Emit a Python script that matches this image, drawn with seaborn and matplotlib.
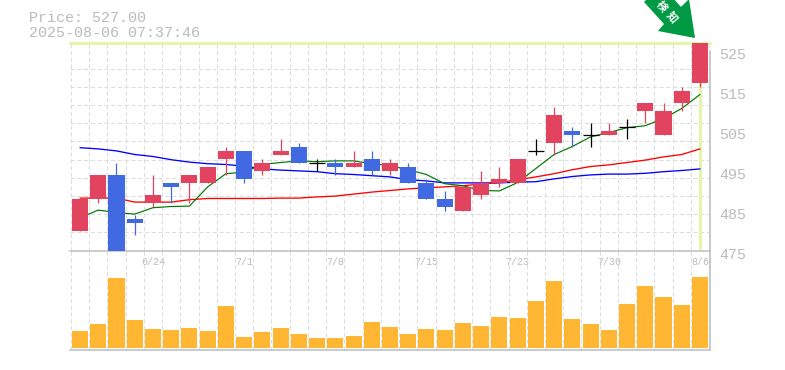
import numpy as np
import pandas as pd
import seaborn as sns
import matplotlib
matplotlib.use('Agg')
import matplotlib.pyplot as plt
from matplotlib.patches import Polygon
from matplotlib.transforms import ScaledTranslation

sns.set_theme(style='white')
plt.rcParams['font.family'] = ['Liberation Mono', 'DejaVu Sans']

opens = [480, 488, 494, 483, 487, 492, 492, 492, 498, 500, 495, 499, 501, 497, 497, 496, 498, 495, 496, 492,
         488, 485, 489, 492, 492, 500, 502, 505, 504, 504, 506, 510, 504, 512, 517]
highs = [488, 494, 497, 484, 494, 492, 494, 496, 501, 500, 498, 503, 502, 498, 498, 500, 500, 498, 497, 493,
         490, 491, 495, 496, 498, 503, 511, 506, 507, 507, 508, 512, 512, 516, 527]
lows = [480, 487, 475, 479, 486, 487, 487, 492, 494, 492, 494, 499, 497, 495, 494, 496, 494, 494, 492, 488,
        485, 485, 488, 491, 492, 499, 499, 501, 501, 504, 503, 507, 504, 510, 516]
closes = [488, 494, 475, 482, 489, 491, 494, 496, 500, 493, 497, 500, 497, 497, 496, 497, 495, 497, 492, 488,
          486, 491, 492, 493, 498, 500, 509, 504, 504, 505, 506, 512, 510, 515, 527]
volumes = [17, 24, 70, 28, 19, 18, 20, 17, 42, 11, 16, 20, 14, 10, 10, 12, 26, 21, 14, 19,
           18, 25, 22, 31, 30, 47, 67, 29, 24, 18, 44, 62, 51, 43, 71]
ma_short = [483.2, 485.1, 484.5, 484.1, 485.7, 486, 486.1, 490.9, 494.2, 494.6, 496.5, 497, 497.4, 497.2, 497.4,
            497.4, 496.7, 496.2, 495.2, 494, 491.7, 491.2, 490, 489.9, 492, 495.5, 499, 501, 503.4, 504.5,
            505.7, 506.2, 508, 510.5, 514]
ma_mid = [488.1, 488.1, 488.1, 487.1, 487.1, 487.1, 487.7, 488, 488, 488, 488, 488.1, 488.1, 488.4, 488.6,
          489.1, 489.6, 490, 490.4, 490.7, 490.9, 491.2, 491.6, 492, 492.7, 493.4, 494.2, 495.2, 496, 496.4,
          497, 497.6, 498.4, 499, 500.4]
ma_long = [500.7, 500.4, 499.9, 499, 498.5, 497.7, 497.1, 496.7, 496.5, 496.1, 495.4, 495.1, 494.9, 494.7, 494.2,
           494, 493.7, 493.4, 492.7, 492.4, 491.9, 491.9, 491.9, 491.9, 492.1, 492.2, 492.9, 493.5, 493.9, 494.1,
           494.1, 494.3, 494.7, 495, 495.4]
date_pos = [4, 9, 14, 19, 24, 29, 34]
date_labels = ['6/24', '7/1', '7/8', '7/15', '7/23', '7/30', '8/6']
price_ticks = [475, 485, 495, 505, 515, 525]
price_now = '527.00'
stamp = '2025-08-06 07:37:46'
badge = ['検', '知']

UP = '#E2435F'
DOWN = '#4169E1'
GRID = '#DDDDDD'
TXT = '#BBBBBB'
EDGE = '#BDBDBD'
HILITE = '#E4F5A8'

df = pd.DataFrame({'i': range(len(opens)), 'open': opens, 'high': highs, 'low': lows, 'close': closes,
                   'vol': volumes, 'short': ma_short, 'mid': ma_mid, 'long': ma_long})

W, H = 785, 370
fig = plt.figure(figsize=(W / 100, H / 100), dpi=100)
# pixel box -> figure fraction
def box(x0, y0, x1, y1):
    return [x0 / W, 1 - y1 / H, (x1 - x0) / W, (y1 - y0) / H]

ax = fig.add_axes(box(70, 42, 710, 250.5))
vax = fig.add_axes(box(70, 250.5, 710, 350))
xlim = (-0.55, 34.55)

# grid first
grid_y = np.linspace(475, 525, 12)[1:]
for a in (ax, vax):
    a.set_xlim(*xlim)
    a.set_xticks(np.arange(-0.5, 35, 1), minor=True)
    a.grid(which='minor', axis='x', color=GRID, lw=0.75, ls=(0, (4, 2.5)))
    a.set_axisbelow(True)
    for s in a.spines.values():
        s.set_visible(False)
    a.tick_params(which='both', length=0)
    a.patch.set_alpha(0)

ax.set_ylim(475, 527.125)
ax.set_yticks(grid_y, minor=True)
ax.grid(which='minor', axis='y', color=GRID, lw=0.75, ls=(0, (4, 2.5)))
ax.set_xticks([])
ax.set_xticks(np.arange(-0.5, 35, 1), minor=True)
ax.yaxis.tick_right()
ax.set_yticks(price_ticks)
ax.set_yticklabels(price_ticks, color=TXT, fontsize=10.8)
ax.tick_params(axis='y', which='major', pad=6.5)
shift = ScaledTranslation(0, -0.025, fig.dpi_scale_trans)
for lab in ax.get_yticklabels():
    lab.set_transform(lab.get_transform() + shift)

# current price highlight
ax.axvline(34, color=HILITE, lw=2.2, ymax=1, ymin=0.01, zorder=1)
ax.axhline(527, color=HILITE, lw=2.2, zorder=1, clip_on=False)

sns.lineplot(data=df, x='i', y='long', ax=ax, color='#0000FF', lw=0.95, zorder=2, legend=False)
sns.lineplot(data=df, x='i', y='mid', ax=ax, color='#FF0000', lw=0.95, zorder=2, legend=False)
sns.lineplot(data=df, x='i', y='short', ax=ax, color='#007700', lw=0.85, zorder=2, legend=False)

for _, r in df.iterrows():
    col = UP if r['close'] > r['open'] else DOWN if r['close'] < r['open'] else 'black'
    ax.vlines(r['i'], r['low'], r['high'], color=col, lw=0.9, zorder=3)
    if r['close'] == r['open']:
        ax.hlines(r['close'], r['i'] - 0.44, r['i'] + 0.44, color='black', lw=0.9, zorder=3)
    else:
        ax.bar(r['i'], abs(r['close'] - r['open']), bottom=min(r['open'], r['close']), width=0.88,
               color=col, lw=0, zorder=4)
ax.set_xlabel('')
ax.set_ylabel('')
ax.set_xlim(*xlim)
ax.set_ylim(475, 527.125)

sns.barplot(data=df, x='i', y='vol', ax=vax, native_scale=True, color='#FFB733', saturation=1, width=0.88,
            lw=0, zorder=3)
vax.set_xlim(*xlim)
vax.set_ylim(-2, 97.5)
vax.set_yticks([])
vax.set_xlabel('')
vax.set_ylabel('')
vax.set_xticks(date_pos)
vax.set_xticklabels(date_labels, color=TXT, fontsize=7.2)
vax.tick_params(axis='x', which='major', labeltop=True, labelbottom=False, top=False, bottom=False, pad=-12)

# borders
for a in (ax, vax):
    for side in ('bottom', 'right'):
        a.spines[side].set_visible(True)
        a.spines[side].set_color(EDGE)
        a.spines[side].set_linewidth(1.1)
ax.spines['right'].set_bounds(475, 525)

# header
fig.text(29 / W, 1 - 18 / H, f'Price: {price_now}', color=TXT, fontsize=10.8, va='center', ha='left')
fig.text(29 / W, 1 - 33 / H, stamp, color=TXT, fontsize=10.8, va='center', ha='left')

# arrow badge
pts = [(695, 38), (658, 31), (664, 24), (644, 2), (648, -2), (673, -2), (681, 7), (689, -1)]
arrow = Polygon([(x / W, 1 - y / H) for x, y in pts], transform=fig.transFigure, color='#009944', lw=0,
                clip_on=False, zorder=10)
fig.add_artist(arrow)
for ch, (bx, by) in zip(badge, [(661, 7), (672, 17)]):
    fig.text(bx / W, 1 - by / H, ch, color='white', fontsize=7.8, rotation=-50, ha='center', va='center',
             family=['Noto Sans CJK JP', 'DejaVu Sans'], fontweight='bold', zorder=11, rotation_mode='anchor')

fig.savefig('out.png', dpi=100)
